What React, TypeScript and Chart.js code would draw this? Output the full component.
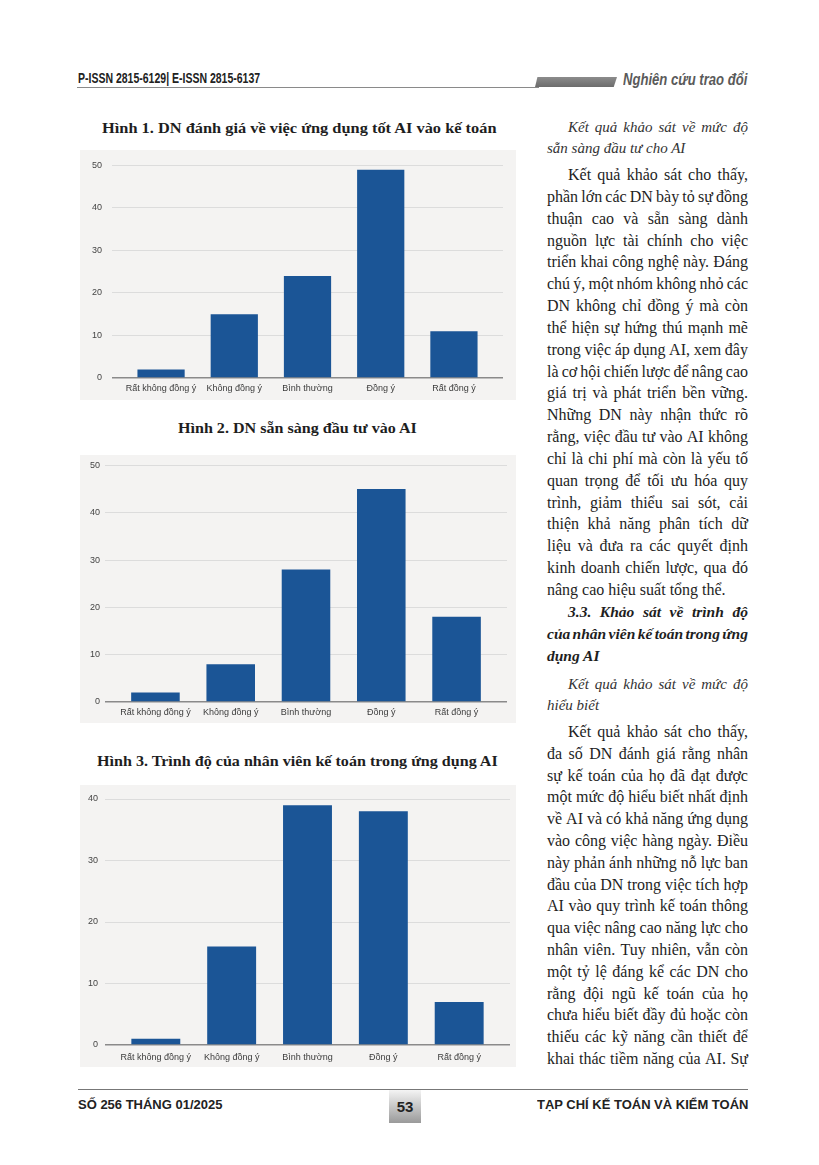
import React, { useEffect, useLayoutEffect, useRef } from "react";
import { Chart, registerables } from "chart.js";

Chart.register(...registerables);

// ---------- DATA ----------
const categories = ["Rất không đồng ý", "Không đồng ý", "Bình thường", "Đồng ý", "Rất đồng ý"];
const fig1Values = [2, 15, 24, 49, 11];
const fig2Values = [2, 8, 28, 45, 18];
const fig3Values = [1, 16, 39, 38, 7];
const fig1Max = 50;
const fig2Max = 50;
const fig3Max = 40;
const yStep = 10;

const fig1Title = "Hình 1. DN đánh giá về việc ứng dụng tốt AI vào kế toán";
const fig2Title = "Hình 2. DN sẵn sàng đầu tư vào AI";
const fig3Title = "Hình 3. Trình độ của nhân viên kế toán trong ứng dụng AI";

const italicA = ["Kết quả khảo sát về mức độ", "sẵn sàng đầu tư cho AI"];
const para1 = [
  "Kết quả khảo sát cho thấy,",
  "phần lớn các DN bày tỏ sự đồng",
  "thuận cao và sẵn sàng dành",
  "nguồn lực tài chính cho việc",
  "triển khai công nghệ này. Đáng",
  "chú ý, một nhóm không nhỏ các",
  "DN không chỉ đồng ý mà còn",
  "thể hiện sự hứng thú mạnh mẽ",
  "trong việc áp dụng AI, xem đây",
  "là cơ hội chiến lược để nâng cao",
  "giá trị và phát triển bền vững.",
  "Những DN này nhận thức rõ",
  "rằng, việc đầu tư vào AI không",
  "chỉ là chi phí mà còn là yếu tố",
  "quan trọng để tối ưu hóa quy",
  "trình, giảm thiểu sai sót, cải",
  "thiện khả năng phân tích dữ",
  "liệu và đưa ra các quyết định",
  "kinh doanh chiến lược, qua đó",
  "nâng cao hiệu suất tổng thể.",
];
const heading33 = ["3.3. Khảo sát về trình độ", "của nhân viên kế toán trong ứng", "dụng AI"];
const italicB = ["Kết quả khảo sát về mức độ", "hiểu biết"];
const para2 = [
  "Kết quả khảo sát cho thấy,",
  "đa số DN đánh giá rằng nhân",
  "sự kế toán của họ đã đạt được",
  "một mức độ hiểu biết nhất định",
  "về AI và có khả năng ứng dụng",
  "vào công việc hàng ngày. Điều",
  "này phản ánh những nỗ lực ban",
  "đầu của DN trong việc tích hợp",
  "AI vào quy trình kế toán thông",
  "qua việc nâng cao năng lực cho",
  "nhân viên. Tuy nhiên, vẫn còn",
  "một tỷ lệ đáng kể các DN cho",
  "rằng đội ngũ kế toán của họ",
  "chưa hiểu biết đầy đủ hoặc còn",
  "thiếu các kỹ năng cần thiết để",
  "khai thác tiềm năng của AI. Sự",
];

const BAR_COLOR = "#1b5596";
const CHART_BG = "#f4f3f2";
const SANS = "'Liberation Sans', Arial, sans-serif";
const SERIF = "'Liberation Serif', 'Times New Roman', serif";

// ---------- helpers ----------
function FitText(props: {
  left: number; cy: number; width: number; text: string; style: React.CSSProperties;
}) {
  const ref = useRef<HTMLSpanElement>(null);
  useLayoutEffect(() => {
    const el = ref.current;
    if (!el) return;
    el.style.transform = "none";
    const nat = el.offsetWidth;
    if (nat > 0) el.style.transform = `scaleX(${props.width / nat})`;
  }, [props.text, props.width]);
  return (
    <div style={{ position: "absolute", left: props.left, top: props.cy - 12, height: 24, lineHeight: "24px", whiteSpace: "nowrap" }}>
      <span ref={ref} style={{ display: "inline-block", transformOrigin: "left center", ...props.style }}>
        {props.text}
      </span>
    </div>
  );
}

function TextLine(props: { y: number; text: string; indent?: number; justify: boolean; style: React.CSSProperties }) {
  const left = 547 + (props.indent || 0);
  const width = 748 - left;
  const words = props.text.split(" ");
  return (
    <div
      style={{
        position: "absolute", left, top: props.y - 11, width, height: 22, lineHeight: "22px",
        display: "flex", justifyContent: props.justify ? "space-between" : "flex-start",
        whiteSpace: "pre", color: "#1e1e1e", ...props.style,
      }}
    >
      {props.justify ? words.map((w, i) => <span key={i}>{w}</span>) : <span>{props.text}</span>}
    </div>
  );
}

function Block(props: { lines: string[]; y0: number; lh: number; indent: number; style: React.CSSProperties; lastLeft: boolean }) {
  return (
    <>
      {props.lines.map((t, i) => (
        <TextLine
          key={i}
          y={props.y0 + i * props.lh}
          text={t}
          indent={i === 0 ? props.indent : 0}
          justify={!(props.lastLeft && i === props.lines.length - 1)}
          style={props.style}
        />
      ))}
    </>
  );
}

const bgPlugin = {
  id: "pageBg",
  beforeDraw(chart: any) {
    const ctx = chart.ctx;
    ctx.save();
    ctx.fillStyle = CHART_BG;
    ctx.fillRect(0, 0, chart.width, chart.height);
    ctx.restore();
  },
};

function BarChart(props: {
  left: number; top: number; width: number; height: number;
  values: number[]; yMax: number;
  padTop: number; padRight: number; yAxisW: number; xAxisH: number;
  yTickPad: number; xTickPad: number;
}) {
  const ref = useRef<HTMLCanvasElement>(null);
  useEffect(() => {
    if (!ref.current) return;
    const m = 0.17;
    const chart = new Chart(ref.current, {
      type: "bar",
      data: {
        datasets: [
          {
            data: props.values.map((v, i) => ({ x: i, y: v })),
            backgroundColor: BAR_COLOR,
            borderWidth: 0,
            barPercentage: 0.645,
            categoryPercentage: 1,
          } as any,
        ],
      },
      options: {
        animation: false,
        responsive: false,
        devicePixelRatio: 1,
        layout: { padding: { top: props.padTop, right: props.padRight, left: 0, bottom: 0 } },
        plugins: { legend: { display: false }, tooltip: { enabled: false } },
        scales: {
          x: {
            type: "linear",
            offset: false,
            bounds: "ticks",
            min: -0.5 - m,
            max: categories.length - 0.5 + m,
            grid: { display: false, drawTicks: false, offset: false },
            border: { display: false },
            afterBuildTicks: (s: any) => {
              s.ticks = categories.map((_, i) => ({ value: i }));
            },
            afterFit: (s: any) => {
              s.height = props.xAxisH;
            },
            ticks: {
              autoSkip: false,
              maxRotation: 0,
              minRotation: 0,
              padding: props.xTickPad,
              font: { family: SANS, size: 9 },
              color: "#3c3c3c",
              callback: (v: any) => categories[v as number] ?? "",
            },
          },
          y: {
            min: 0,
            max: props.yMax,
            afterFit: (s: any) => {
              s.width = props.yAxisW;
            },
            ticks: {
              stepSize: yStep,
              padding: props.yTickPad,
              font: { family: SANS, size: 9 },
              color: "#444",
            },
            grid: {
              drawTicks: false,
              color: (c: any) => (c.tick && c.tick.value === 0 ? "#8a8a8a" : "#dcdcdc"),
              lineWidth: (c: any) => (c.tick && c.tick.value === 0 ? 1.5 : 1),
            },
            border: { display: false },
          },
        },
      } as any,
      plugins: [bgPlugin],
    });
    return () => chart.destroy();
  }, []);
  return (
    <div style={{ position: "absolute", left: props.left, top: props.top, width: props.width, height: props.height }}>
      <canvas ref={ref} width={props.width} height={props.height} style={{ display: "block", width: props.width, height: props.height }} />
    </div>
  );
}

export default function App() {
  const bodyStyle: React.CSSProperties = { fontFamily: SERIF, fontSize: 16 };
  const italicStyle: React.CSSProperties = { fontFamily: SERIF, fontSize: 15, fontStyle: "italic", color: "#333" };
  const headStyle: React.CSSProperties = { fontFamily: SERIF, fontSize: 15.5, fontStyle: "italic", fontWeight: "bold" };
  const titleStyle: React.CSSProperties = { fontFamily: SERIF, fontSize: 15, fontWeight: "bold", color: "#1e1e1e" };
  const condStyle: React.CSSProperties = { fontFamily: SANS, fontSize: 15, fontWeight: "bold", color: "#222" };
  return (
    <div style={{ position: "absolute", left: 0, top: 0, width: 819, height: 1165, background: "#fff", overflow: "hidden" }}>
      {/* header */}
      <FitText left={78} cy={78} width={182} text="P-ISSN 2815-6129| E-ISSN 2815-6137" style={condStyle} />
      <div style={{ position: "absolute", left: 77, top: 86.5, width: 462, height: 1, background: "#8a8a8a" }} />
      <div
        style={{
          position: "absolute", left: 535, top: 77, width: 82, height: 10,
          background: "linear-gradient(#8c8c8c, #6c6c6c)",
          clipPath: "polygon(3% 0, 100% 0, 96% 100%, 0 100%)",
        }}
      />
      <FitText left={623} cy={80} width={124} text="Nghiên cứu trao đổi" style={{ fontFamily: SANS, fontSize: 17, fontWeight: "bold", fontStyle: "italic", color: "#5a5a5a" }} />

      {/* figure titles */}
      <FitText left={102} cy={128} width={395} text={fig1Title} style={titleStyle} />
      <FitText left={178} cy={428} width={239} text={fig2Title} style={titleStyle} />
      <FitText left={97} cy={761} width={401} text={fig3Title} style={titleStyle} />

      {/* charts */}
      <BarChart left={80} top={150} width={436} height={250} values={fig1Values} yMax={fig1Max}
        padTop={10} padRight={13} yAxisW={32} xAxisH={22} yTickPad={10} xTickPad={5} />
      <BarChart left={80} top={455} width={436} height={268} values={fig2Values} yMax={fig2Max}
        padTop={10} padRight={9} yAxisW={25} xAxisH={21} yTickPad={5} xTickPad={5} />
      <BarChart left={80} top={785} width={436} height={282} values={fig3Values} yMax={fig3Max}
        padTop={14} padRight={6} yAxisW={25} xAxisH={22} yTickPad={7} xTickPad={7} />

      {/* right column text */}
      <Block lines={italicA} y0={127} lh={20.5} indent={21} style={italicStyle} lastLeft={true} />
      <Block lines={para1} y0={175} lh={21.84} indent={21} style={bodyStyle} lastLeft={true} />
      <Block lines={heading33} y0={612} lh={22} indent={21} style={headStyle} lastLeft={true} />
      <Block lines={italicB} y0={684} lh={21} indent={21} style={italicStyle} lastLeft={true} />
      <Block lines={para2} y0={732} lh={21.8} indent={21} style={bodyStyle} lastLeft={false} />

      {/* footer */}
      <div style={{ position: "absolute", left: 78, top: 1088.5, width: 670, height: 1.5, background: "#777" }} />
      <div
        style={{
          position: "absolute", left: 389, top: 1090, width: 32, height: 33,
          background: "linear-gradient(#f4f4f4, #9a9a9a)",
          display: "flex", alignItems: "center", justifyContent: "center",
          fontFamily: SANS, fontWeight: "bold", fontSize: 15, color: "#222",
        }}
      >
        53
      </div>
      <FitText left={78} cy={1104} width={144} text="SỐ 256 THÁNG 01/2025" style={{ ...condStyle, fontSize: 12 }} />
      <FitText left={537} cy={1104} width={211} text="TẠP CHÍ KẾ TOÁN VÀ KIỂM TOÁN" style={{ ...condStyle, fontSize: 12 }} />
    </div>
  );
}
